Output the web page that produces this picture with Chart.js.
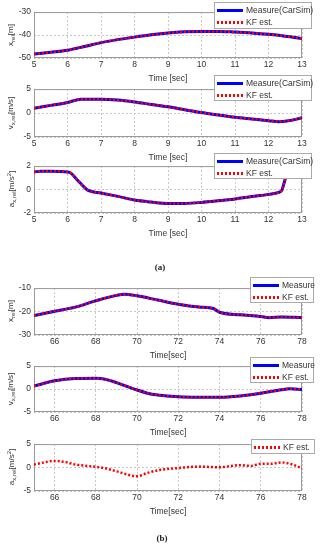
<!DOCTYPE html>
<html>
<head>
<meta charset="utf-8">
<script src="https://cdn.jsdelivr.net/npm/chart.js@4.4.0/dist/chart.umd.min.js"></script>
<style>
body { margin: 0; background: #fff; }
#fig { position: relative; width: 320px; height: 550px; overflow: hidden; font-family: "Liberation Sans", Arial, sans-serif; color: #333; }
canvas { position: absolute; left: 0; }
.ylab { position: absolute; left: 11px; transform: translate(-50%, -50%) rotate(-90deg); font-size: 8px; white-space: nowrap; }
.ylab sub { font-size: 6px; vertical-align: -2px; }
.ylab sup { font-size: 6px; vertical-align: 3px; }
.leg { position: absolute; background: #fff; border: 1px solid #aaa; font-size: 8.5px; z-index: 5; box-sizing: border-box; padding: 1px 2px; }
.leg .row { display: flex; align-items: center; height: 12px; }
.leg .s { width: 26px; height: 3px; margin-right: 3px; flex: none; }
.leg .blue { background: #0000ff; }
.leg .red { background: repeating-linear-gradient(90deg, #f00 0 2px, transparent 2px 4px); }
.cap { position: absolute; left: 0; width: 320px; text-align: center; font: bold 9px "Liberation Serif", serif; color: #222; }
</style>
</head>
<body>
<div id="fig">
  <canvas id="c1" width="320" height="80"></canvas>
  <canvas id="c2" width="320" height="82"></canvas>
  <canvas id="c3" width="320" height="81"></canvas>
  <canvas id="c4" width="320" height="81"></canvas>
  <canvas id="c5" width="320" height="80"></canvas>
  <canvas id="c6" width="320" height="81"></canvas>

  <div class="ylab" style="top:35px">x<sub>rel</sub>[m]</div>
  <div class="ylab" style="top:113px">v<sub>x,rel</sub>[m/s]</div>
  <div class="ylab" style="top:189px">a<sub>x,rel</sub>[m/s<sup>2</sup>]</div>
  <div class="ylab" style="top:311px">x<sub>rel</sub>[m]</div>
  <div class="ylab" style="top:389px">v<sub>x,rel</sub>[m/s]</div>
  <div class="ylab" style="top:467px">a<sub>x,rel</sub>[m/s<sup>2</sup>]</div>

  <div class="leg" style="left:214px;top:2px;width:98px;height:27px">
    <div class="row"><span class="s blue"></span>Measure(CarSim)</div>
    <div class="row"><span class="s red"></span>KF est.</div>
  </div>
  <div class="leg" style="left:214px;top:75px;width:98px;height:26px">
    <div class="row"><span class="s blue"></span>Measure(CarSim)</div>
    <div class="row"><span class="s red"></span>KF est.</div>
  </div>
  <div class="leg" style="left:214px;top:153px;width:98px;height:26px">
    <div class="row"><span class="s blue"></span>Measure(CarSim)</div>
    <div class="row"><span class="s red"></span>KF est.</div>
  </div>
  <div class="leg" style="left:250px;top:277px;width:64px;height:26px">
    <div class="row"><span class="s blue"></span>Measure</div>
    <div class="row"><span class="s red"></span>KF est.</div>
  </div>
  <div class="leg" style="left:250px;top:357px;width:64px;height:26px">
    <div class="row"><span class="s blue"></span>Measure</div>
    <div class="row"><span class="s red"></span>KF est.</div>
  </div>
  <div class="leg" style="left:251px;top:439px;width:64px;height:15px">
    <div class="row"><span class="s red"></span>KF est.</div>
  </div>

  <div class="cap" style="top:262px">(a)</div>
  <div class="cap" style="top:533px;left:2px">(b)</div>
</div>

<script>
// (a) CarSim run
const tXA = [5, 5.5, 6, 6.5, 7, 7.5, 8, 8.5, 9, 9.5, 10, 10.5, 11, 11.5, 12, 12.5, 13];
const xRelMeasA = [-48.3, -47.5, -46.6, -45.0, -43.3, -42.0, -40.9, -39.9, -39.1, -38.6, -38.4, -38.4, -38.7, -39.1, -39.7, -40.5, -41.5];
const xRelKfA = [-48.3, -47.5, -46.6, -45.0, -43.3, -42.0, -40.9, -39.9, -39.1, -38.6, -38.4, -38.4, -38.7, -39.1, -39.7, -40.5, -41.5];

const tVA = [5, 5.5, 6, 6.4, 7, 7.5, 8, 8.5, 9, 9.5, 10, 10.5, 11, 11.5, 12, 12.3, 12.6, 13];
const vMeasA = [1.0, 1.6, 2.2, 2.9, 2.9, 2.7, 2.3, 1.8, 1.3, 0.7, 0.1, -0.4, -0.9, -1.25, -1.6, -1.8, -1.6, -1.0];
const vKfA = [1.0, 1.6, 2.2, 2.9, 2.9, 2.7, 2.3, 1.8, 1.3, 0.7, 0.1, -0.4, -0.9, -1.25, -1.6, -1.8, -1.6, -1.0];

const tAA = [5, 5.2, 5.5, 6, 6.1, 6.3, 6.5, 6.6, 7, 7.5, 8, 8.5, 9, 9.5, 10, 10.5, 11, 11.5, 12, 12.3, 12.4, 12.45, 12.5, 12.55];
const aMeasA = [1.5, 1.57, 1.57, 1.5, 1.4, 0.8, 0.2, -0.05, -0.3, -0.58, -0.9, -1.07, -1.18, -1.18, -1.1, -0.96, -0.8, -0.6, -0.41, -0.25, -0.05, 0.4, 0.9, 1.5];
const aKfA = [1.5, 1.57, 1.57, 1.5, 1.4, 0.8, 0.2, -0.05, -0.3, -0.58, -0.9, -1.07, -1.18, -1.18, -1.1, -0.96, -0.8, -0.6, -0.41, -0.25, -0.05, 0.4, 0.9, 1.5];

// (b) test drive
const tXB = [65, 66, 67, 68, 69, 69.4, 70, 71, 72, 73, 73.7, 74, 75, 76, 76.4, 77, 78];
const xRelMeasB = [-21.7, -19.9, -18.1, -15.4, -13.1, -12.6, -13.3, -15.1, -16.9, -18.1, -18.7, -20.3, -21.4, -22.1, -22.6, -22.3, -22.6];
const xRelKfB = [-21.7, -19.9, -18.1, -15.4, -13.1, -12.6, -13.3, -15.1, -16.9, -18.1, -18.7, -20.3, -21.4, -22.1, -22.6, -22.3, -22.6];

const tVB = [65, 66, 67, 68, 68.5, 69, 69.5, 70, 70.5, 71, 72, 73, 74, 75, 76, 77, 77.4, 78];
const vMeasB = [0.65, 1.8, 2.3, 2.35, 2.1, 1.4, 0.6, -0.2, -0.9, -1.3, -1.7, -1.8, -1.8, -1.5, -0.9, -0.15, 0.07, -0.1];
const vKfB = [0.65, 1.8, 2.3, 2.35, 2.1, 1.4, 0.6, -0.2, -0.9, -1.3, -1.7, -1.8, -1.8, -1.5, -0.9, -0.15, 0.07, -0.1];

const tAB = [65, 66, 66.5, 67, 68, 68.5, 69, 70, 70.5, 71, 72, 73, 74, 75, 75.5, 76, 76.5, 77, 77.5, 78];
const aKfB = [0.65, 1.4, 1.2, 0.65, 0.15, -0.2, -0.8, -1.85, -1.15, -0.6, -0.1, 0.2, 0.07, 0.5, 0.35, 0.8, 0.8, 1.1, 0.7, -0.15];

// tick values
const xTicksA = [5, 6, 7, 8, 9, 10, 11, 12, 13];
const xTicksB = [66, 68, 70, 72, 74, 76, 78];
const yTicksXA = [-50, -40, -30];
const yTicksVA = [-5, 0, 5];
const yTicksAA = [-2, 0, 2];
const yTicksXB = [-30, -20, -10];
const yTicksVB = [-5, 0, 5];
const yTicksAB = [-5, 0, 5];

const font = { family: '"Liberation Sans", Arial, sans-serif', size: 8.5 };
const textColor = '#333';

function pts(t, v) {
    return t.map((x, i) => ({ x: x, y: v[i] }));
}

function measureLine(t, v) {
    return {
        label: 'Measure', data: pts(t, v), borderColor: '#0000ff', borderWidth: 3,
        pointRadius: 0, tension: 0.4, cubicInterpolationMode: 'monotone', order: 1
    };
}

function kfLine(t, v) {
    return {
        label: 'KF est.', data: pts(t, v), borderColor: '#ff0000', borderWidth: 2.5,
        borderDash: [2, 2], pointRadius: 0, tension: 0.4, cubicInterpolationMode: 'monotone', order: 0
    };
}

const frame = {
    id: 'frame',
    beforeDatasetsDraw(chart) {
        const a = chart.chartArea;
        const ctx = chart.ctx;
        ctx.save();
        ctx.strokeStyle = '#999';
        ctx.lineWidth = 1;
        ctx.strokeRect(a.left + 0.5, a.top + 0.5, a.right - a.left - 1, a.bottom - a.top - 1);
        ctx.restore();
    }
};

function makeChart(id, top, bottom, xRange, xTicks, yRange, yTicks, xTitle, datasets) {
    const canvas = document.getElementById(id);
    canvas.style.top = (top - 8) + 'px';
    canvas.height = bottom - top + 8 + 26;

    return new Chart(canvas, {
        type: 'line',
        data: { datasets: datasets },
        options: {
            responsive: false,
            animation: false,
            layout: { padding: { top: 8, right: 18, left: 0, bottom: 0 } },
            plugins: { legend: { display: false }, tooltip: { enabled: false } },
            scales: {
                x: {
                    type: 'linear', min: xRange[0], max: xRange[1],
                    afterBuildTicks: scale => { scale.ticks = xTicks.map(v => ({ value: v })); },
                    afterFit: scale => { scale.height = 26; },
                    grid: { color: '#c8c8c8', drawTicks: false },
                    border: { display: false, dash: [2, 2] },
                    ticks: { font: font, color: textColor, padding: 2, maxRotation: 0, callback: v => String(v) },
                    title: { display: true, text: xTitle, font: font, color: textColor, padding: 0 }
                },
                y: {
                    min: yRange[0], max: yRange[1],
                    afterBuildTicks: scale => { scale.ticks = yTicks.map(v => ({ value: v })); },
                    afterFit: scale => { scale.width = 34; },
                    grid: { color: '#c8c8c8', drawTicks: false },
                    border: { display: false, dash: [2, 2] },
                    ticks: { font: font, color: textColor, padding: 3, callback: v => String(v) }
                }
            }
        },
        plugins: [frame]
    });
}

makeChart('c1', 12, 58, [5, 13], xTicksA, [-50, -30], yTicksXA, 'Time [sec]',
    [measureLine(tXA, xRelMeasA), kfLine(tXA, xRelKfA)]);
makeChart('c2', 89, 137, [5, 13], xTicksA, [-5, 5], yTicksVA, 'Time [sec]',
    [measureLine(tVA, vMeasA), kfLine(tVA, vKfA)]);
makeChart('c3', 166, 213, [5, 13], xTicksA, [-2, 2], yTicksAA, 'Time [sec]',
    [measureLine(tAA, aMeasA), kfLine(tAA, aKfA)]);
makeChart('c4', 288, 335, [65, 78], xTicksB, [-30, -10], yTicksXB, 'Time[sec]',
    [measureLine(tXB, xRelMeasB), kfLine(tXB, xRelKfB)]);
makeChart('c5', 366, 412, [65, 78], xTicksB, [-5, 5], yTicksVB, 'Time[sec]',
    [measureLine(tVB, vMeasB), kfLine(tVB, vKfB)]);
makeChart('c6', 444, 491, [65, 78], xTicksB, [-5, 5], yTicksAB, 'Time[sec]',
    [kfLine(tAB, aKfB)]);
</script>
</body>
</html>
